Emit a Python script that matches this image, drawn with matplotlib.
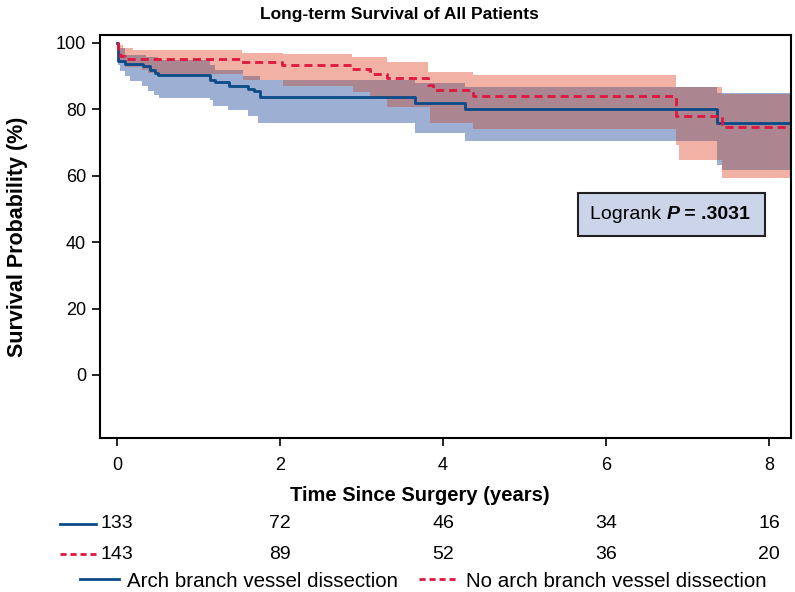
import numpy as np
import matplotlib
matplotlib.use("Agg")
import matplotlib.pyplot as plt
from matplotlib.lines import Line2D
from matplotlib.patches import Rectangle

# Kaplan-Meier estimates (years, %)
blue_t = [0, 0.005, 0.016, 0.10, 0.32, 0.40, 0.46, 0.50, 1.14, 1.20, 1.37, 1.61, 1.68, 1.75, 3.66, 4.27, 7.36]
blue_s = [100, 95.3, 94.5, 93.7, 93.0, 92.0, 91.0, 90.2, 88.9, 88.2, 87.1, 86.2, 85.4, 83.8, 81.8, 80.1, 76.0]
red_t = [0, 0.005, 0.04, 0.10, 1.52, 2.02, 2.88, 3.10, 3.31, 3.82, 3.88, 4.37, 6.86, 7.42]
red_s = [100, 97.0, 96.0, 95.3, 94.3, 93.3, 92.1, 90.6, 89.4, 87.3, 85.8, 84.0, 78.0, 74.6]

# confidence bands
blue_up_t = [0, 0.005, 0.10, 0.35, 0.50, 1.14, 1.20, 1.55, 1.75, 3.66, 4.27, 7.36]
blue_up_s = [100, 98.5, 96.5, 95.8, 95.0, 93.5, 92.0, 90.0, 88.9, 88.0, 86.7, 84.8]
blue_lo_t = [0, 0.005, 0.04, 0.10, 0.16, 0.30, 0.38, 0.45, 0.51, 1.14, 1.18, 1.36, 1.61, 1.73, 3.66, 4.27, 7.36, 7.42]
blue_lo_s = [100, 93.5, 91.5, 90.0, 88.5, 87.0, 85.4, 84.4, 83.4, 82.9, 80.9, 79.9, 77.9, 75.9, 73.0, 70.5, 63.3, 61.7]
red_up_t = [0, 0.005, 0.07, 0.20, 1.53, 2.04, 2.88, 3.31, 3.82, 4.37, 6.86, 7.42]
red_up_s = [100, 99.4, 98.4, 97.9, 97.0, 96.6, 95.9, 94.2, 91.4, 90.4, 86.7, 84.5]
red_lo_t = [0, 0.005, 0.04, 0.10, 0.31, 0.38, 0.50, 1.55, 2.04, 2.90, 3.10, 3.31, 3.84, 4.37, 6.86, 6.90, 7.42]
red_lo_s = [100, 96.0, 94.0, 92.7, 92.0, 91.0, 90.5, 88.9, 87.1, 85.3, 83.5, 80.7, 75.8, 74.0, 69.3, 64.8, 59.4]
t_end = 8.3

risk_times = [0, 2, 4, 6, 8]
risk_blue = [133, 72, 46, 34, 16]
risk_red = [143, 89, 52, 36, 20]

BLUE = "#0b4a88"
RED = "#e0163e"
BLUE_FILL = "#9db0d3"
RED_FILL = "#f2b1a5"
MIX_FILL = "#ab8590"

plt.rcParams["font.family"] = ["Liberation Sans", "DejaVu Sans"]


def step_at(t, s, grid):
    idx = np.searchsorted(np.asarray(t), grid, side="right") - 1
    return np.asarray(s, dtype=float)[idx]


grid = np.unique(np.concatenate([blue_up_t, blue_lo_t, red_up_t, red_lo_t, [t_end]]))
b_hi = step_at(blue_up_t, blue_up_s, grid)
b_lo = step_at(blue_lo_t, blue_lo_s, grid)
r_hi = step_at(red_up_t, red_up_s, grid)
r_lo = step_at(red_lo_t, red_lo_s, grid)
o_lo = np.maximum(b_lo, r_lo)
o_hi = np.maximum(np.minimum(b_hi, r_hi), o_lo)

fig = plt.figure(figsize=(7.95, 5.92), dpi=100)
ax = fig.add_axes([0.1258, 0.2601, 0.8692, 0.6808])

ax.fill_between(grid, b_lo, b_hi, step="post", color=BLUE_FILL, lw=0)
ax.fill_between(grid, r_lo, r_hi, step="post", color=RED_FILL, lw=0)
ax.fill_between(grid, o_lo, o_hi, step="post", color=MIX_FILL, lw=0)

bx = np.append(blue_t, t_end)
by = np.append(blue_s, blue_s[-1])
rx = np.append(red_t, t_end)
ry = np.append(red_s, red_s[-1])
ax.step(bx, by, where="post", color=BLUE, lw=2)
ax.step(rx, ry, where="post", color=RED, lw=2, linestyle=(0, (2.9, 1.8)))

ax.set_xlim(-0.21, 8.27)
ax.set_ylim(-19, 102.4)
ax.set_xticks([0, 2, 4, 6, 8])
ax.set_yticks([0, 20, 40, 60, 80, 100])
ax.tick_params(direction="out", length=6, width=1.2, labelsize=13, pad=4)
ax.tick_params(axis="x", pad=8)
for sp in ax.spines.values():
    sp.set_linewidth(1.5)

fig.text(0.502, 0.976, "Long-term Survival of All Patients", fontsize=12.5, fontweight="bold",
         ha="center", va="center")
ax.set_ylabel("Survival Probability (%)", fontsize=15.5, fontweight="bold")
ax.yaxis.set_label_coords(-0.104, 0.5)
ax.set_xlabel("Time Since Surgery (years)", fontsize=14.5, fontweight="bold")
ax.xaxis.set_label_coords(0.463, -0.118)

# logrank box
ax.add_patch(Rectangle((5.66, 41.9), 2.29, 12.9, facecolor="#ccd4e9", edgecolor="#222222", lw=1.5, zorder=5))
t1 = ax.text(5.8, 48.3, "Logrank ", fontsize=14, va="center", ha="left", zorder=6)
t2 = ax.annotate("P", xycoords=t1, xy=(1, 0), va="bottom", fontsize=14,
                 fontweight="bold", fontstyle="italic", zorder=6)
ax.annotate(" = .3031", xycoords=t2, xy=(1, 0), va="bottom", fontsize=14,
            fontweight="bold", zorder=6)

# number at risk
xt = ax.get_xaxis_transform()
row_y = [-0.213, -0.288]
for y, vals, col, ls in [(row_y[0], risk_blue, BLUE, "-"), (row_y[1], risk_red, RED, (0, (2.2, 1.4)))]:
    for x, v in zip(risk_times, vals):
        ax.text(x, y, str(v), transform=xt, ha="center", va="center", fontsize=14, clip_on=False)
    ax.add_line(Line2D([-0.058, -0.006], [y, y], transform=ax.transAxes, color=col, lw=2,
                       linestyle=ls, clip_on=False))

handles = [Line2D([], [], color=BLUE, lw=2),
           Line2D([], [], color=RED, lw=2, linestyle=(0, (2.2, 1.4)))]
ax.legend(handles, ["Arch branch vessel dissection", "No arch branch vessel dissection"],
          loc="center", bbox_to_anchor=(0.468, -0.355), ncol=2, frameon=False,
          prop={"size": 14.8}, handlelength=1.9, handletextpad=0.4,
          columnspacing=1.0)

fig.savefig("out.png", dpi=100)
